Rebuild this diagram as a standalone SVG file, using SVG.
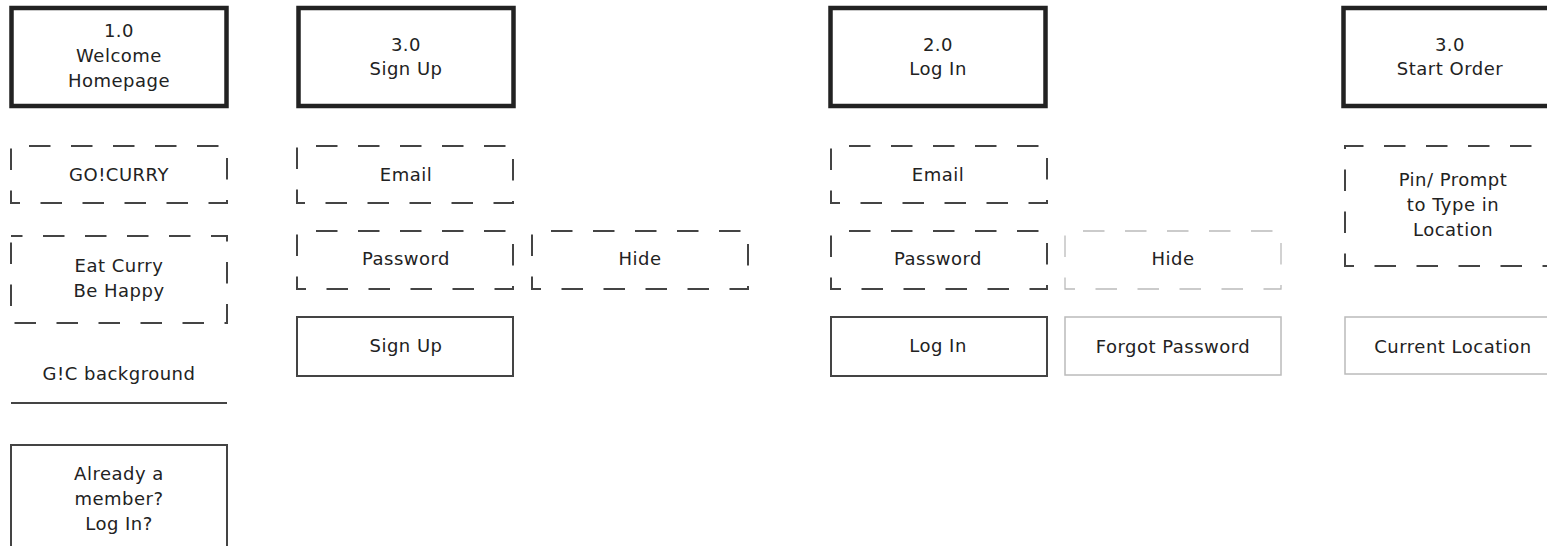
<svg xmlns="http://www.w3.org/2000/svg" width="1547" height="554" viewBox="0 0 1547 554">
<style>
text{font-family:"DejaVu Sans","Liberation Sans",sans-serif;font-size:18px;fill:#222;text-anchor:middle;letter-spacing:0.5px}
.title{fill:#fff;stroke:#222;stroke-width:4.5}
.dash{fill:#fff;stroke:#444;stroke-width:2;stroke-dasharray:21.5 20.5}
.dlight{fill:#fff;stroke:#bbb;stroke-width:1.3;stroke-dasharray:21.5 20.5}
.btn{fill:#fff;stroke:#444;stroke-width:2}
.blight{fill:#fff;stroke:#bbb;stroke-width:1.5}
.rule{stroke:#444;stroke-width:2;fill:none}
</style>
<rect width="1547" height="554" fill="#fff"/>
<g id="connectors"></g>

<g id="welcome-homepage">
<rect class="title" x="11.5" y="8" width="215" height="98"/>
<text x="119" y="37">1.0</text>
<text x="119" y="62">Welcome</text>
<text x="119" y="87">Homepage</text>
</g>
<g id="gocurry">
<rect class="dash" x="11" y="146" width="216" height="57" stroke-dashoffset="24"/>
<text x="119" y="181">GO!CURRY</text>
</g>
<g id="eat-curry">
<rect class="dash" x="11" y="236" width="216" height="87" stroke-dashoffset="10"/>
<text x="119" y="272">Eat Curry</text>
<text x="119" y="297">Be Happy</text>
</g>
<g id="gic-background">
<text x="119" y="380">G!C background</text>
<line class="rule" x1="11" y1="403" x2="227" y2="403"/>
</g>
<g id="already-member">
<path class="rule" d="M11 546 V445 H227 V546"/>
<text x="119" y="480">Already a</text>
<text x="119" y="505">member?</text>
<text x="119" y="530">Log In?</text>
</g>

<g id="sign-up-title">
<rect class="title" x="298.5" y="8" width="215" height="98"/>
<text x="406" y="51">3.0</text>
<text x="406" y="75">Sign Up</text>
</g>
<g id="signup-email">
<rect class="dash" x="297" y="146" width="216" height="57" stroke-dashoffset="23"/>
<text x="406" y="181">Email</text>
</g>
<g id="signup-password">
<rect class="dash" x="297" y="231" width="216" height="58" stroke-dashoffset="23"/>
<text x="406" y="265">Password</text>
</g>
<g id="signup-hide">
<rect class="dash" x="532" y="231" width="216" height="58" stroke-dashoffset="23"/>
<text x="640" y="265">Hide</text>
</g>
<g id="signup-button">
<rect class="btn" x="297" y="317" width="216" height="59"/>
<text x="406" y="352">Sign Up</text>
</g>

<g id="log-in-title">
<rect class="title" x="830.5" y="8" width="215" height="98"/>
<text x="938" y="51">2.0</text>
<text x="938" y="75">Log In</text>
</g>
<g id="login-email">
<rect class="dash" x="831" y="146" width="216" height="57" stroke-dashoffset="24"/>
<text x="938" y="181">Email</text>
</g>
<g id="login-password">
<rect class="dash" x="831" y="231" width="216" height="58" stroke-dashoffset="24"/>
<text x="938" y="265">Password</text>
</g>
<g id="login-hide">
<rect class="dlight" x="1065" y="231" width="216" height="58" stroke-dashoffset="24"/>
<text x="1173" y="265">Hide</text>
</g>
<g id="login-button">
<rect class="btn" x="831" y="317" width="216" height="59"/>
<text x="938" y="352">Log In</text>
</g>
<g id="forgot-password">
<rect class="blight" x="1065" y="317" width="216" height="58"/>
<text x="1173" y="353">Forgot Password</text>
</g>

<g id="start-order-title">
<rect class="title" x="1343.5" y="8" width="215" height="98"/>
<text x="1450" y="51">3.0</text>
<text x="1450" y="75">Start Order</text>
</g>
<g id="pin-prompt">
<rect class="dash" x="1345" y="146" width="216" height="120" stroke-dashoffset="3"/>
<text x="1453" y="186">Pin/ Prompt</text>
<text x="1453" y="211">to Type in</text>
<text x="1453" y="236">Location</text>
</g>
<g id="current-location">
<rect class="blight" x="1345" y="317" width="216" height="57"/>
<text x="1453" y="353">Current Location</text>
</g>
</svg>
